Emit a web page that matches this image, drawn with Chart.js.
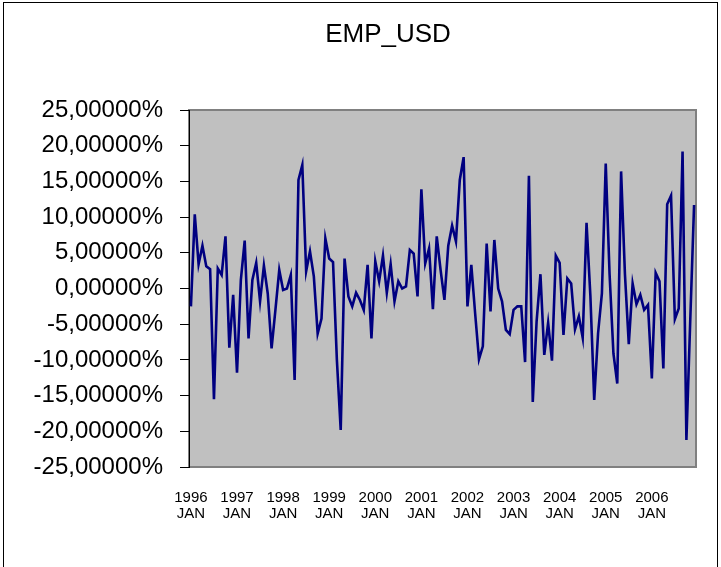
<!DOCTYPE html>
<html>
<head>
<meta charset="utf-8">
<script src="https://cdn.jsdelivr.net/npm/chart.js@4/dist/chart.umd.min.js"></script>
<style>
  html, body { margin: 0; padding: 0; background: #ffffff; }
  #wrap { width: 721px; height: 567px; position: relative; }
</style>
</head>
<body>
<div id="wrap"><canvas id="c" width="721" height="567"></canvas></div>
<script>
// ---- data ----
const chartTitle = 'EMP_USD';
const years = ['1996','1997','1998','1999','2000','2001','2002','2003','2004','2005','2006'];
const monthNames = ['JAN','FEB','MAR','APR','MAY','JUN','JUL','AUG','SEP','OCT','NOV','DEC'];
// monthly values in percent, Jan 1996 .. Dec 2006
const empUsd = [
  -2.5, 10.4, 3.4, 6.0, 3.1, 2.7, -15.5, 2.8, 1.9, 7.3, -8.3, -0.9,
  -11.8, 1.2, 6.7, -7.0, 1.2, 3.6, -1.8, 3.2, -0.7, -8.4, -3.0, 2.6,
  -0.2, 0.0, 1.9, -12.8, 15.2, 17.3, 2.4, 5.2, 1.7, -6.3, -4.2, 7.0,
  4.2, 3.7, -10.0, -19.8, 4.2, -1.1, -2.5, -0.6, -1.6, -3.0, 3.3, -7.0,
  3.8, 1.0, 4.6, -0.6, 3.4, -1.8, 1.0, 0.0, 0.3, 5.4, 4.9, -1.1,
  13.9, 3.5, 5.6, -2.9, 7.3, 2.6, -1.6, 6.0, 8.8, 6.6, 15.2, 18.4,
  -2.5, 3.3, -3.5, -9.9, -8.1, 6.3, -3.2, 6.8, 0.0, -1.8, -5.8, -6.4,
  -3.0, -2.5, -2.5, -10.3, 15.8, -15.9, -4.6, 2.0, -9.3, -4.8, -10.1, 4.6,
  3.6, -6.5, 1.4, 0.7, -5.7, -3.9, -6.9, 9.2, -1.0, -15.6, -6.3, -0.7,
  17.5, 2.0, -9.1, -13.3, 16.4, 2.0, -7.8, 0.7, -2.2, -0.9, -3.0, -2.3,
  -12.6, 2.2, 1.0, -11.2, 11.8, 13.0, -4.3, -2.8, 19.2, -21.2, -4.5, 11.7
];
const yMin = -25, yMax = 25, yStep = 5;

// categories built from years x months
const categories = [];
years.forEach(y => monthNames.forEach(m => categories.push(y + ' ' + m)));

const FONT = "'Liberation Sans', Arial, sans-serif";

const frameAndPlot = {
  id: 'frameAndPlot',
  beforeDraw(chart) {
    const ctx = chart.ctx, a = chart.chartArea;
    ctx.save();
    ctx.fillStyle = '#ffffff';
    ctx.fillRect(0, 0, chart.width, chart.height);
    ctx.strokeStyle = '#000000';
    ctx.lineWidth = 1;
    ctx.strokeRect(3.5, 2.5, chart.width - 7, chart.height + 10);
    ctx.fillStyle = '#c0c0c0';
    ctx.fillRect(a.left, a.top, a.right - a.left, a.bottom - a.top);
    ctx.strokeStyle = '#808080';
    ctx.lineWidth = 2;
    ctx.strokeRect(a.left, a.top, a.right - a.left, a.bottom - a.top);
    ctx.restore();
  },
  afterDraw(chart) {
    const ctx = chart.ctx;
    ctx.save();
    ctx.fillStyle = '#000000';
    ctx.font = '26px ' + FONT;
    ctx.textAlign = 'center';
    ctx.textBaseline = 'middle';
    ctx.fillText(chartTitle, 388, 35);
    ctx.restore();
  }
};

new Chart(document.getElementById('c'), {
  type: 'line',
  data: {
    labels: categories,
    datasets: [{
      label: chartTitle,
      data: empUsd,
      borderColor: '#000080',
      borderWidth: 2.6,
      pointRadius: 0,
      tension: 0,
      fill: false
    }]
  },
  options: {
    responsive: false,
    animation: false,
    devicePixelRatio: 1,
    layout: { padding: { left: 0, right: 25, top: 110, bottom: 0 } },
    plugins: {
      legend: { display: false },
      tooltip: { enabled: false },
      title: { display: false }
    },
    scales: {
      x: {
        type: 'category',
        offset: true,
        afterFit(s) { s.height = 100; },
        grid: { display: false },
        border: { display: false },
        ticks: {
          autoSkip: false,
          maxRotation: 0,
          minRotation: 0,
          padding: 15,
          color: '#000000',
          font: { family: FONT, size: 15, lineHeight: 1.08 },
          callback(v, i) {
            if (i % 12 !== 0) return '';
            const parts = categories[i].split(' ');
            return [parts[0], parts[1]];
          }
        }
      },
      y: {
        min: yMin,
        max: yMax,
        afterFit(s) { s.width = 189; },
        grid: { display: true, drawOnChartArea: false, drawTicks: true, tickLength: 9, color: '#000000', lineWidth: 1 },
        border: { display: true, color: '#000000', width: 1 },
        ticks: {
          stepSize: yStep,
          padding: 17,
          color: '#000000',
          font: { family: FONT, size: 24 },
          callback(v) { return v.toFixed(5).replace('.', ',') + '%'; }
        }
      }
    }
  },
  plugins: [frameAndPlot]
});
</script>
</body>
</html>
